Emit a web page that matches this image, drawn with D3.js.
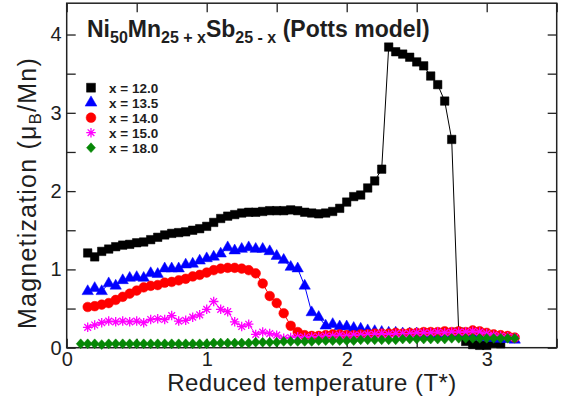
<!DOCTYPE html>
<html>
<head>
<meta charset="utf-8">
<script src="https://cdn.jsdelivr.net/npm/d3@7"></script>
<style>
  html, body { margin: 0; padding: 0; background: #fff; }
  svg { display: block; }
  text { font-family: "Liberation Sans", Arial, Helvetica, sans-serif; fill: #1e1e1e; }
</style>
</head>
<body>
<svg id="chart" width="568" height="403"></svg>
<script>
// ---------------- data ----------------
const tempsBlack = [0.15,0.20,0.25,0.30,0.35,0.40,0.45,0.50,0.55,0.60,0.65,0.70,0.75,0.80,0.85,0.90,0.95,1.00,1.05,1.10,1.15,1.20,1.25,1.30,1.35,1.40,1.45,1.50,1.55,1.60,1.65,1.70,1.75,1.80,1.85,1.90,1.95,2.00,2.05,2.10,2.15,2.20,2.25,2.30,2.35,2.40,2.45,2.50,2.55,2.60,2.65,2.70,2.75,2.80,2.85,2.90,2.95,3.00,3.05,3.10];
const temps = [0.15,0.20,0.25,0.30,0.35,0.40,0.45,0.50,0.55,0.60,0.65,0.70,0.75,0.80,0.85,0.90,0.95,1.00,1.05,1.10,1.15,1.20,1.25,1.30,1.35,1.40,1.45,1.50,1.55,1.60,1.65,1.70,1.75,1.80,1.85,1.90,1.95,2.00,2.05,2.10,2.15,2.20,2.25,2.30,2.35,2.40,2.45,2.50,2.55,2.60,2.65,2.70,2.75,2.80,2.85,2.90,2.95,3.00,3.05,3.10,3.15,3.20];
const tempsGreen = [0.10,0.15,0.20,0.25,0.30,0.35,0.40,0.45,0.50,0.55,0.60,0.65,0.70,0.75,0.80,0.85,0.90,0.95,1.00,1.05,1.10,1.15,1.20,1.25,1.30,1.35,1.40,1.45,1.50,1.55,1.60,1.65,1.70,1.75,1.80,1.85,1.90,1.95,2.00,2.05,2.10,2.15,2.20,2.25,2.30,2.35,2.40,2.45,2.50,2.55,2.60,2.65,2.70,2.75,2.80,2.85,2.90,2.95,3.00,3.05,3.10,3.15,3.20];

const magX120 = [1.21,1.16,1.23,1.26,1.29,1.31,1.32,1.34,1.35,1.38,1.41,1.44,1.46,1.47,1.48,1.50,1.52,1.55,1.60,1.65,1.68,1.70,1.72,1.73,1.73,1.74,1.75,1.75,1.75,1.76,1.75,1.73,1.72,1.71,1.72,1.74,1.78,1.86,1.93,1.95,2.04,2.13,2.28,3.84,3.78,3.75,3.71,3.65,3.60,3.47,3.36,3.15,2.66,0.20,0.08,0.04,0.03,0.03,0.06,0.05];
const magX135 = [0.72,0.76,0.72,0.82,0.79,0.86,0.89,0.90,0.89,0.95,0.94,1.01,1.01,1.01,1.06,1.07,1.11,1.14,1.16,1.20,1.28,1.24,1.26,1.28,1.26,1.26,1.23,1.17,1.12,1.03,1.01,0.79,0.45,0.39,0.28,0.30,0.27,0.27,0.25,0.24,0.22,0.21,0.20,0.19,0.19,0.18,0.18,0.18,0.17,0.17,0.17,0.17,0.16,0.16,0.15,0.15,0.14,0.13,0.12,0.11,0.11,0.10];
const magX140 = [0.52,0.53,0.55,0.57,0.61,0.65,0.69,0.73,0.77,0.79,0.80,0.83,0.84,0.86,0.88,0.91,0.93,0.96,0.99,1.01,1.02,1.02,1.01,0.99,0.95,0.82,0.66,0.57,0.44,0.28,0.20,0.16,0.15,0.15,0.16,0.17,0.17,0.16,0.16,0.17,0.17,0.18,0.18,0.18,0.19,0.18,0.19,0.19,0.20,0.20,0.20,0.21,0.20,0.21,0.20,0.22,0.21,0.19,0.17,0.16,0.15,0.13];
const magX150 = [0.26,0.29,0.32,0.34,0.33,0.34,0.33,0.34,0.32,0.36,0.37,0.36,0.41,0.34,0.35,0.39,0.42,0.49,0.59,0.49,0.46,0.33,0.27,0.30,0.17,0.20,0.18,0.16,0.12,0.13,0.14,0.13,0.14,0.14,0.15,0.15,0.16,0.15,0.16,0.16,0.17,0.17,0.18,0.17,0.18,0.18,0.18,0.19,0.19,0.19,0.20,0.19,0.20,0.20,0.20,0.21,0.20,0.18,0.16,0.15,0.14,0.13];
const magX180 = [0.05,0.05,0.05,0.04,0.05,0.05,0.05,0.05,0.05,0.05,0.05,0.05,0.05,0.05,0.05,0.05,0.05,0.05,0.05,0.06,0.06,0.06,0.06,0.06,0.06,0.07,0.07,0.07,0.07,0.08,0.08,0.08,0.08,0.08,0.09,0.09,0.09,0.09,0.09,0.09,0.10,0.10,0.10,0.10,0.10,0.10,0.11,0.11,0.11,0.11,0.11,0.11,0.11,0.12,0.12,0.12,0.12,0.12,0.12,0.12,0.12,0.12,0.12];

const seriesLabels = ["x = 12.0", "x = 13.5", "x = 14.0", "x = 15.0", "x = 18.0"];
const xTickValues = [0,0.5,1,1.5,2,2.5,3,3.5];
const xTickLabels = ["0","","1","","2","","3",""];
const yTickValues = [0,0.5,1,1.5,2,2.5,3,3.5,4];
const yTickLabels = ["0","","1","","2","","3","","4"];

// ---------------- layout ----------------
const svg = d3.select("#chart");
const L = 66.7, R = 556.7, T = 3.2, B = 347.7;
const x = d3.scaleLinear().domain([0, 3.5]).range([L, R]);
const y = d3.scaleLinear().domain([0, 4.4]).range([B, T]);

const fmtX = d => xTickLabels[xTickValues.indexOf(d)];
const fmtY = d => yTickLabels[yTickValues.indexOf(d)];
const TICK = 9;

function styleAxis(g) {
  g.select(".domain").remove();
  g.selectAll(".tick line").attr("stroke", "#222").attr("stroke-width", 1.3);
  g.selectAll(".tick text").attr("fill", "#1e1e1e").style("font-size", "20px")
    .style("font-family", "'Liberation Sans', Arial, sans-serif");
}

svg.append("g").attr("transform", `translate(0,${B})`)
  .call(d3.axisBottom(x).tickValues(xTickValues).tickFormat(fmtX).tickSizeInner(-TICK).tickSizeOuter(0).tickPadding(4))
  .call(styleAxis);
svg.append("g").attr("transform", `translate(0,${T})`)
  .call(d3.axisTop(x).tickValues(xTickValues).tickFormat("").tickSizeInner(-TICK).tickSizeOuter(0))
  .call(styleAxis);
svg.append("g").attr("transform", `translate(${L},0)`)
  .call(d3.axisLeft(y).tickValues(yTickValues).tickFormat(fmtY).tickSizeInner(-TICK).tickSizeOuter(0).tickPadding(5))
  .call(styleAxis);
svg.append("g").attr("transform", `translate(${R},0)`)
  .call(d3.axisRight(y).tickValues(yTickValues).tickFormat("").tickSizeInner(-TICK).tickSizeOuter(0))
  .call(styleAxis);

svg.append("rect").attr("x", L).attr("y", T).attr("width", R - L).attr("height", B - T)
  .attr("fill", "none").attr("stroke", "#222").attr("stroke-width", 1.5);

// ---------------- symbols ----------------
const asterisk = {
  draw(ctx, size) {
    const r = Math.sqrt(size) / 2;
    for (let k = 0; k < 4; k++) {
      const a = k * Math.PI / 4;
      ctx.moveTo(-r * Math.cos(a), -r * Math.sin(a));
      ctx.lineTo(r * Math.cos(a), r * Math.sin(a));
    }
  }
};
const diamond = {
  draw(ctx, size) {
    const w = Math.sqrt(size) / 2, h = w * 1.1;
    ctx.moveTo(0, -h); ctx.lineTo(w, 0); ctx.lineTo(0, h); ctx.lineTo(-w, 0); ctx.closePath();
  }
};

const series = [
  { t: tempsBlack, v: magX120, color: "#000000", type: d3.symbolSquare, size: 72, stroke: false },
  { t: temps, v: magX135, color: "#0000ff", type: d3.symbolTriangle, size: 56, stroke: false },
  { t: temps, v: magX140, color: "#ff0000", type: d3.symbolCircle, size: 74, stroke: false },
  { t: temps, v: magX150, color: "#ff00ff", type: asterisk, size: 90, stroke: true },
  { t: tempsGreen, v: magX180, color: "#068706", type: diamond, size: 80, stroke: false }
];

const line = d3.line().x(d => x(d[0])).y(d => y(d[1]));
const plot = svg.append("g");

series.forEach(s => {
  const pts = s.t.map((t, i) => [t, s.v[i]]);
  plot.append("path").datum(pts).attr("d", line)
    .attr("fill", "none").attr("stroke", s.color).attr("stroke-width", 1);
  const sym = d3.symbol().type(s.type).size(s.size);
  plot.selectAll(null).data(pts).enter().append("path")
    .attr("transform", d => `translate(${x(d[0])},${y(d[1])})`)
    .attr("d", sym)
    .attr("fill", s.stroke ? "none" : s.color)
    .attr("stroke", s.color)
    .attr("stroke-width", s.stroke ? 1.3 : 0.5);
});

// ---------------- legend ----------------
const legendSizes = [80, 60, 75, 90, 80];
const leg = svg.append("g");
series.forEach((s, i) => {
  const cy = 87.7 + i * 15;
  leg.append("path").attr("transform", `translate(91,${cy})`)
    .attr("d", d3.symbol().type(s.type).size(legendSizes[i]))
    .attr("fill", s.stroke ? "none" : s.color)
    .attr("stroke", s.color).attr("stroke-width", s.stroke ? 1.3 : 0.5);
  leg.append("text").attr("x", 109).attr("y", cy + 4.8)
    .style("font-size", "13.5px").style("font-weight", "bold")
    .text(seriesLabels[i]);
});

// ---------------- titles ----------------
const title = svg.append("text").attr("x", 87).attr("y", 37)
  .style("font-size", "23px").style("font-weight", "bold");
const parts = [["Ni", 0], ["50", 1], ["Mn", 0], ["25 + x", 1], ["Sb", 0], ["25 - x", 1], [" (Potts model)", 0]];
let prevSub = 0;
parts.forEach(([txt, sub]) => {
  const dy = sub === prevSub ? 0 : (sub ? 6 : -6);
  title.append("tspan").attr("dy", dy).style("font-size", sub ? "16px" : "23px").text(txt);
  prevSub = sub;
});

svg.append("text").attr("x", 312).attr("y", 391).attr("text-anchor", "middle")
  .style("font-size", "24px").style("letter-spacing", "0.45px").text("Reduced temperature (T*)");

const yt = svg.append("text").attr("transform", "translate(36,193) rotate(-90)")
  .attr("text-anchor", "middle").style("font-size", "25px").style("letter-spacing", "1.2px");
yt.append("tspan").text("Magnetization (μ");
yt.append("tspan").attr("dy", 5).style("font-size", "17px").text("B");
yt.append("tspan").attr("dy", -5).text("/Mn)");
</script>
</body>
</html>
